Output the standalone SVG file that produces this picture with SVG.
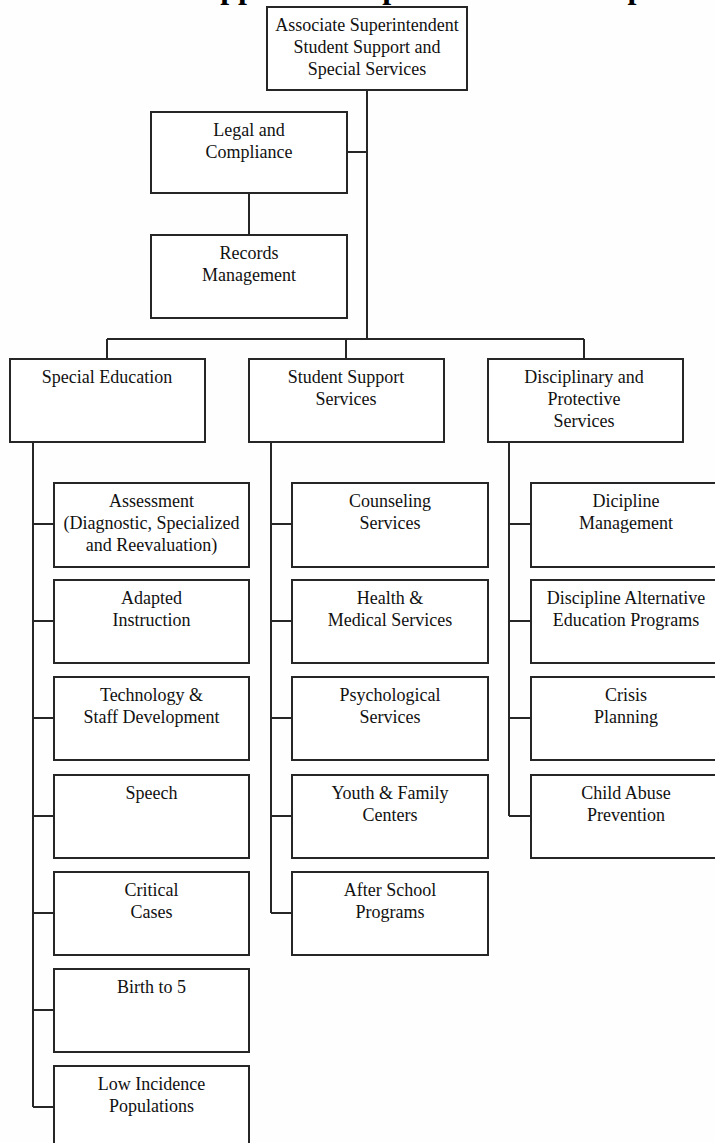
<svg xmlns="http://www.w3.org/2000/svg" width="715" height="1143" viewBox="0 0 715 1143">
<style>
.bg{fill:#fefefe}
.box{fill:#ffffff;stroke:#262626;stroke-width:2}
.ln{fill:none;stroke:#262626;stroke-width:2}
.t{font-family:"Liberation Serif","Times New Roman",serif;font-size:18px;fill:#111;text-anchor:middle}
.title{font-family:"Liberation Serif","Times New Roman",serif;font-size:32px;font-weight:bold;fill:#000}
</style>
<rect class="bg" x="0" y="0" width="715" height="1143"/>
<text class="title" x="70" y="-2">Student Support and Special Services Department</text>

<g id="connectors">
<path class="ln" d="M367 90V339M347 152H367M249 193V235M107 339H584M107 339V359M346 339V359M584 339V359"/>
<path class="ln" d="M33 442V1107M33 524H54M33 621H54M33 718H54M33 816H54M33 913H54M33 1010H54M33 1107H54"/>
<path class="ln" d="M271 442V913M271 524H292M271 621H292M271 718H292M271 816H292M271 913H292"/>
<path class="ln" d="M509 442V816M509 524H531M509 621H531M509 718H531M509 816H531"/>
</g>

<g id="n-assoc"><rect class="box" x="267" y="7" width="200" height="83"/>
<text class="t" x="367" y="31">Associate Superintendent</text>
<text class="t" x="367" y="53">Student Support and</text>
<text class="t" x="367" y="75">Special Services</text></g>

<g id="n-legal"><rect class="box" x="151" y="112" width="196" height="81"/>
<text class="t" x="249" y="136">Legal and</text>
<text class="t" x="249" y="158">Compliance</text></g>

<g id="n-records"><rect class="box" x="151" y="235" width="196" height="83"/>
<text class="t" x="249" y="259">Records</text>
<text class="t" x="249" y="281">Management</text></g>

<g id="n-sped"><rect class="box" x="10" y="359" width="195" height="83"/>
<text class="t" x="107" y="383">Special Education</text></g>

<g id="n-sss"><rect class="box" x="249" y="359" width="195" height="83"/>
<text class="t" x="346" y="383">Student Support</text>
<text class="t" x="346" y="405">Services</text></g>

<g id="n-disc"><rect class="box" x="488" y="359" width="195" height="83"/>
<text class="t" x="584" y="383">Disciplinary and</text>
<text class="t" x="584" y="405">Protective</text>
<text class="t" x="584" y="427">Services</text></g>

<g id="n-assess"><rect class="box" x="54" y="483" width="195" height="84"/>
<text class="t" x="151.5" y="507">Assessment</text>
<text class="t" x="151.5" y="529">(Diagnostic, Specialized</text>
<text class="t" x="151.5" y="551">and Reevaluation)</text></g>

<g id="n-adapted"><rect class="box" x="54" y="580" width="195" height="83"/>
<text class="t" x="151.5" y="604">Adapted</text>
<text class="t" x="151.5" y="626">Instruction</text></g>

<g id="n-tech"><rect class="box" x="54" y="677" width="195" height="83"/>
<text class="t" x="151.5" y="701">Technology &amp;</text>
<text class="t" x="151.5" y="723">Staff Development</text></g>

<g id="n-speech"><rect class="box" x="54" y="775" width="195" height="83"/>
<text class="t" x="151.5" y="799">Speech</text></g>

<g id="n-critical"><rect class="box" x="54" y="872" width="195" height="83"/>
<text class="t" x="151.5" y="896">Critical</text>
<text class="t" x="151.5" y="918">Cases</text></g>

<g id="n-birth"><rect class="box" x="54" y="969" width="195" height="83"/>
<text class="t" x="151.5" y="993">Birth to 5</text></g>

<g id="n-low"><rect class="box" x="54" y="1066" width="195" height="83"/>
<text class="t" x="151.5" y="1090">Low Incidence</text>
<text class="t" x="151.5" y="1112">Populations</text></g>

<g id="n-counsel"><rect class="box" x="292" y="483" width="196" height="84"/>
<text class="t" x="390" y="507">Counseling</text>
<text class="t" x="390" y="529">Services</text></g>

<g id="n-health"><rect class="box" x="292" y="580" width="196" height="83"/>
<text class="t" x="390" y="604">Health &amp;</text>
<text class="t" x="390" y="626">Medical Services</text></g>

<g id="n-psych"><rect class="box" x="292" y="677" width="196" height="83"/>
<text class="t" x="390" y="701">Psychological</text>
<text class="t" x="390" y="723">Services</text></g>

<g id="n-youth"><rect class="box" x="292" y="775" width="196" height="83"/>
<text class="t" x="390" y="799">Youth &amp; Family</text>
<text class="t" x="390" y="821">Centers</text></g>

<g id="n-after"><rect class="box" x="292" y="872" width="196" height="83"/>
<text class="t" x="390" y="896">After School</text>
<text class="t" x="390" y="918">Programs</text></g>

<g id="n-dicmgmt"><rect class="box" x="531" y="483" width="195" height="84"/>
<text class="t" x="626" y="507">Dicipline</text>
<text class="t" x="626" y="529">Management</text></g>

<g id="n-daep"><rect class="box" x="531" y="580" width="195" height="83"/>
<text class="t" x="626" y="604">Discipline Alternative</text>
<text class="t" x="626" y="626">Education Programs</text></g>

<g id="n-crisis"><rect class="box" x="531" y="677" width="195" height="83"/>
<text class="t" x="626" y="701">Crisis</text>
<text class="t" x="626" y="723">Planning</text></g>

<g id="n-abuse"><rect class="box" x="531" y="775" width="195" height="83"/>
<text class="t" x="626" y="799">Child Abuse</text>
<text class="t" x="626" y="821">Prevention</text></g>
</svg>
